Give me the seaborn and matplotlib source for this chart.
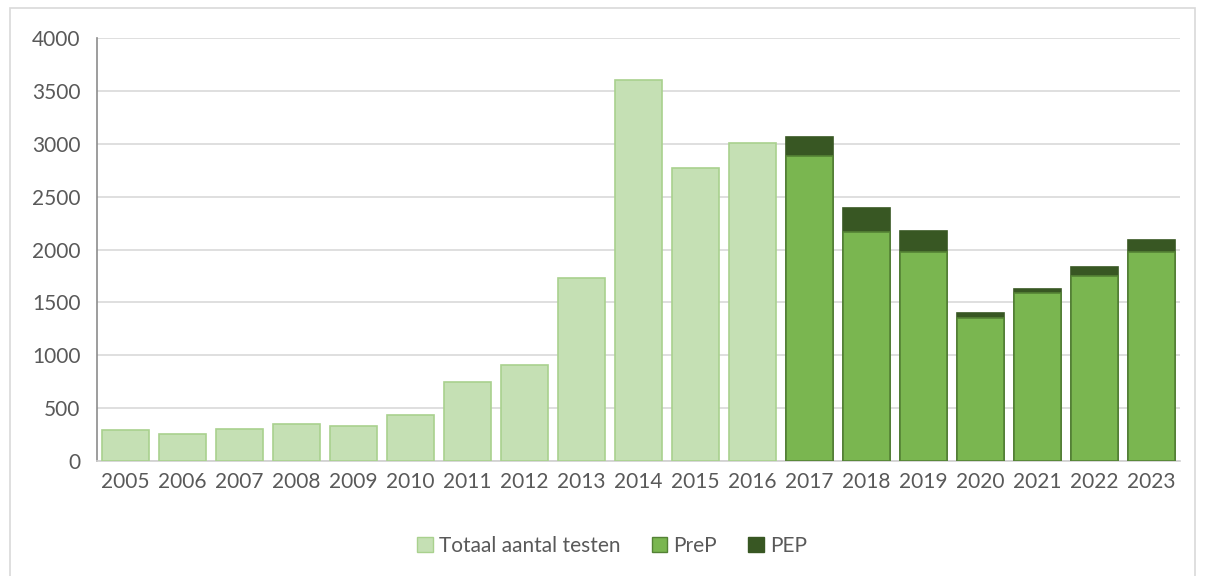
import matplotlib
matplotlib.use("Agg")
import matplotlib.pyplot as plt
from matplotlib.patches import Patch, Rectangle
import seaborn as sns
import pandas as pd

# === Data ===
years = [str(y) for y in range(2005, 2024)]
total_years = years[:12]
total_tests = [290, 260, 300, 350, 335, 435, 745, 905, 1735, 3600, 2775, 3010]
prep_years = years[12:]
prep = [2880, 2165, 1978, 1353, 1585, 1745, 1976]
pep = [182, 225, 199, 47, 37, 91, 116]

light_fill, light_edge = "#C5E0B4", "#A9D18E"
prep_fill, prep_edge = "#7AB650", "#548235"
pep_fill = "#385723"
text_col = "#595959"

df_total = pd.DataFrame({"year": total_years, "value": total_tests})
df_stack = pd.DataFrame({"year": prep_years, "prep": prep, "pep": pep})
df_stack["sum"] = df_stack["prep"] + df_stack["pep"]

sns.set_style("white")
plt.rcParams["font.family"] = ["Lato", "DejaVu Sans"]

fig = plt.figure(figsize=(12.05, 5.76), dpi=100)
ax = fig.add_axes([97 / 1205, 115 / 576, 1083 / 1205, 423 / 576])

bw = 0.82
sns.barplot(data=df_total, x="year", y="value", order=years, color=light_fill,
            edgecolor=light_edge, linewidth=1.2, width=bw, saturation=1, ax=ax, zorder=3)
sns.barplot(data=df_stack, x="year", y="sum", order=years, color=pep_fill,
            edgecolor=pep_fill, linewidth=1.2, width=bw, saturation=1, ax=ax, zorder=3)
sns.barplot(data=df_stack, x="year", y="prep", order=years, color=prep_fill,
            edgecolor=prep_edge, linewidth=1.2, width=bw, saturation=1, ax=ax, zorder=4)

ax.set_xlim(-0.5, len(years) - 0.5)
ax.set_ylim(0, 4000)
ax.set_yticks(range(0, 4001, 500))
ax.set_xlabel("")
ax.set_ylabel("")
ax.grid(axis="y", color="#D9D9D9", linewidth=1.2, zorder=0)
ax.set_axisbelow(True)

for s in ["top", "right"]:
    ax.spines[s].set_visible(False)
ax.spines["left"].set_color("#8C8C8C")
ax.spines["bottom"].set_color("#D0D0D0")
ax.spines["left"].set_linewidth(1.2)
ax.spines["bottom"].set_linewidth(1.2)

ax.tick_params(axis="y", length=5, color="#8C8C8C", labelsize=15, labelcolor=text_col, pad=7)
ax.tick_params(axis="x", length=0, labelsize=15, labelcolor=text_col, pad=8)
# category boundary ticks on x axis
ax.set_xticks([i + 0.5 for i in range(-1, len(years))], minor=True)
ax.tick_params(axis="x", which="minor", length=6, color="#D0D0D0", width=1.2)

handles = [
    Patch(facecolor=light_fill, edgecolor=light_edge, label="Totaal aantal testen"),
    Patch(facecolor=prep_fill, edgecolor=prep_edge, label="PreP"),
    Patch(facecolor=pep_fill, edgecolor=pep_fill, label="PEP"),
]
leg = fig.legend(handles=handles, loc="center", bbox_to_anchor=(0.508, 0.052), ncol=3,
                 frameon=False, fontsize=15, handlelength=0.75, handleheight=0.75,
                 handletextpad=0.3, columnspacing=1.5)
for t in leg.get_texts():
    t.set_color(text_col)

fig.patches.append(Rectangle((10 / 1205, -0.01), 1185 / 1205, 1 - 8 / 576 + 0.01,
                             transform=fig.transFigure, fill=False,
                             edgecolor="#D9D9D9", linewidth=1.2))

plt.savefig("out.png", dpi=100)
